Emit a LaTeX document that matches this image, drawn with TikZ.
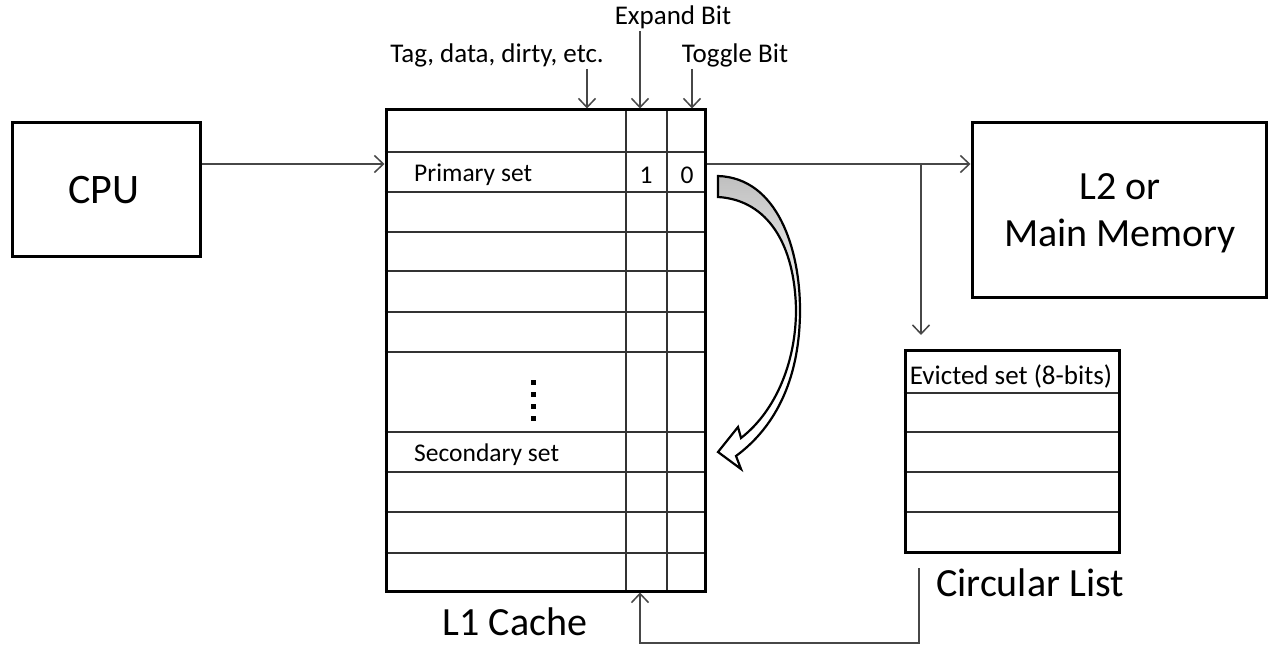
\documentclass[tikz,border=0pt]{standalone}
\usepackage{fontspec}
\setmainfont{Carlito}
\usetikzlibrary{arrows.meta,calc}
\begin{document}
\begin{tikzpicture}[x=1pt,y=-1pt,
  box/.style={draw=black, line width=3pt, inner sep=0pt},
  gridline/.style={draw=black!80, line width=1.6pt},
  conn/.style={draw=black!72, line width=1.5pt, -{Straight Barb[length=9pt,width=17pt,line width=1.5pt]}},
  big/.style={font=\fontsize{40}{47}\selectfont, text=black, inner sep=0pt},
  small/.style={font=\fontsize{25.5}{30}\selectfont, text=black, inner sep=0pt},
  label/.style={font=\fontsize{27}{32}\selectfont, text=black, inner sep=0pt},
  curved/.style={draw=black, line width=2.2pt, top color=black!25, bottom color=white, middle color=white},
]
\useasboundingbox (0,0) rectangle (1269,647);

% boxes
\node[box, minimum width=188pt, minimum height=133pt] (cpu) at (106,189.5) {};
\node[big, font=\fontsize{42}{47}\selectfont] (cputxt) at (104,190) {CPU};
\node[box, minimum width=319pt, minimum height=481pt] (cache) at (545.5,350.5) {};
\node[box, minimum width=294pt, minimum height=174pt] (l2) at (1119,210) {};
\node[big, align=center] (l2txt) at (1120,213) {L2 or\\Main Memory};
\node[box, minimum width=214pt, minimum height=202pt] (list) at (1012,451) {};

% cache grid
\foreach \y in {152,192,232,271,312,352,432,472,512,553}
  \draw[gridline] (cache.west |- 0,\y) -- (cache.east |- 0,\y);
\foreach \x in {626,667}
  \draw[gridline] (cache.north -| \x,0) -- (cache.south -| \x,0);
\node[box, minimum width=319pt, minimum height=481pt] at (545.5,350.5) {};

% list grid
\foreach \y in {393,432,472,512}
  \draw[gridline] (list.west |- 0,\y) -- (list.east |- 0,\y);
\node[box, minimum width=214pt, minimum height=202pt] at (1012,451) {};

% cache texts
\node[small, anchor=west] (prim) at (414,175) {Primary set};
\node[small] (one) at (646,175) {1};
\node[small] (zero) at (687,175) {0};
\node[small, anchor=west] (sec) at (414,455) {Secondary set};
\foreach \y in {382,394,406,418}
  \fill (530.5,\y-2.5) rectangle (535.5,\y+2.5);

\node[label] (evict) at (1011,376) {Evicted set (8-bits)};

% labels
\node[big] (l1) at (515,622) {L1 Cache};
\node[big] (clist) at (1030,583) {Circular List};
\node[label] (tag) at (497,55) {Tag, data, dirty, etc.};
\node[label] (expand) at (673,17) {Expand Bit};
\node[label] (toggle) at (735,55) {Toggle Bit};

% top arrows
\coordinate (tagS) at (587,69);
\coordinate (expS) at (640,31);
\coordinate (togS) at (692,69);
\draw[conn] (tagS) -- (tagS |- cache.north);
\draw[conn] (expS) -- (expS |- cache.north);
\draw[conn] (togS) -- (togS |- cache.north);

% connectors
\draw[conn] (cpu.east |- 0,164) -- (cache.west |- 0,164);
\draw[conn] (cache.east |- 0,164) -- (l2.west |- 0,164);
\coordinate (br) at (921,164);
\coordinate (brE) at (921,335);
\draw[conn] (br) -- (brE);
\coordinate (fb1) at (919,568);
\coordinate (fb2) at (919,643);
\coordinate (fb3) at (640,643);
\draw[conn] (fb1) -- (fb2) -- (fb3) -- (fb3 |- cache.south);

% curved block arrow
\path[curved] (718,176) .. controls (778,178) and (800,250) .. (800,310)
  .. controls (800,375) and (778,425) .. (736,456)
  -- (741,469) -- (718,452) -- (738,427) -- (741,438)
  .. controls (777,410) and (796,360) .. (796,310)
  .. controls (795,245) and (768,200) .. (718,197) -- cycle;
\end{tikzpicture}
\end{document}
